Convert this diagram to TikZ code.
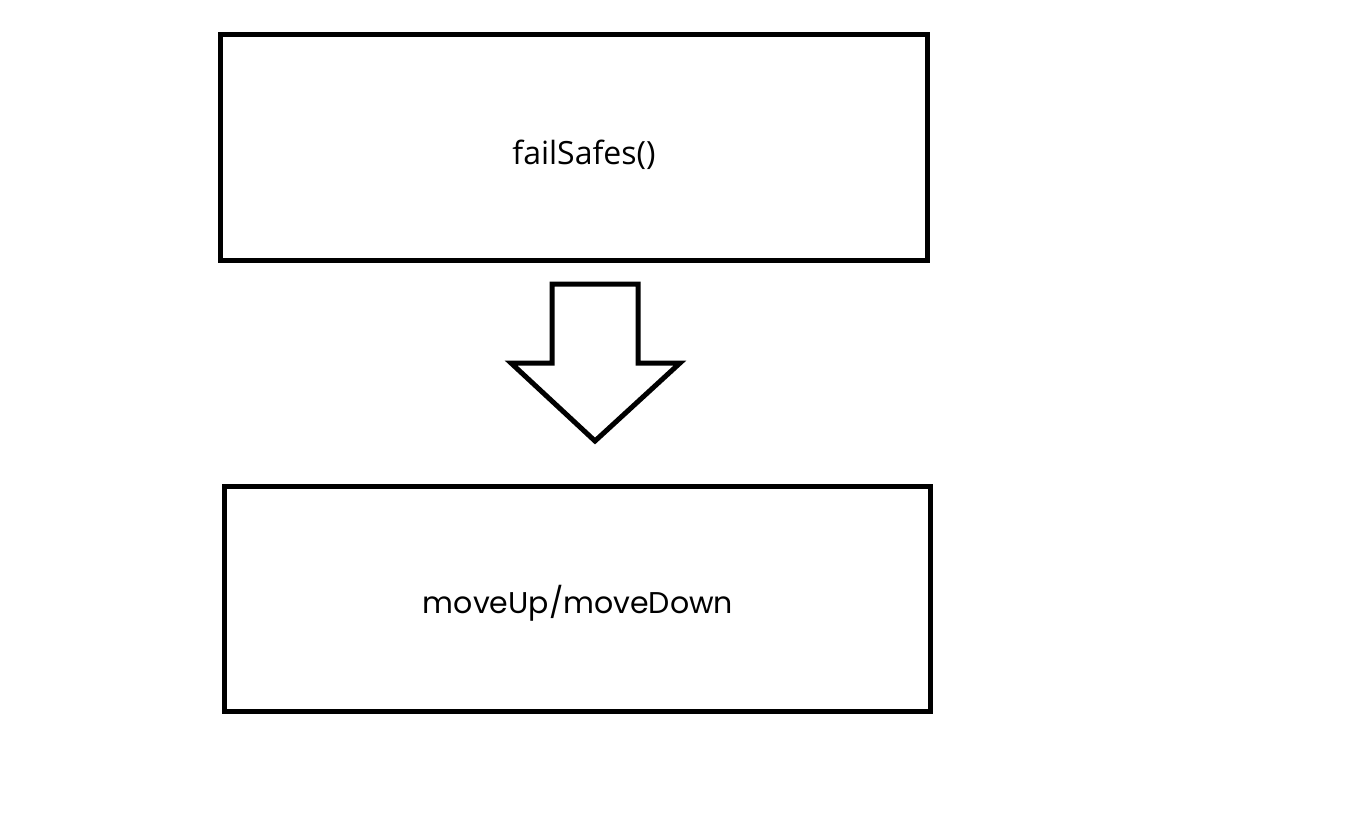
\documentclass[tikz,border=0pt]{standalone}
\usepackage{fontspec}
\setmainfont{Open Sans}
\newfontfamily\geofont{Poppins}
\begin{document}
\begin{tikzpicture}[x=1pt,y=-1pt,
  boxstyle/.style={draw=black,line width=5pt,fill=white},
  arrowstyle/.style={draw=black,line width=5pt,line join=miter,fill=white}]
\useasboundingbox[fill=white] (0,0) rectangle (1359,820);
\node[boxstyle,minimum width=707pt,minimum height=226pt,inner sep=0pt] (top) at (574,147.5) {};
\node[font=\fontsize{32}{38}\selectfont] (toptext) at (584,155) {failSafes()};
\node[boxstyle,minimum width=706pt,minimum height=225pt,inner sep=0pt] (bot) at (577.5,598.5) {};
\node[font=\geofont\fontsize{30}{36}\selectfont] (bottext) at (578,603) {moveUp/moveDown};
\coordinate (tip) at (595,441);
\draw[arrowstyle] (552,284) -- (638,284) -- (638,363) -- (680,363) -- (tip) -- (511,363) -- (552,363) -- cycle;
\end{tikzpicture}
\end{document}
